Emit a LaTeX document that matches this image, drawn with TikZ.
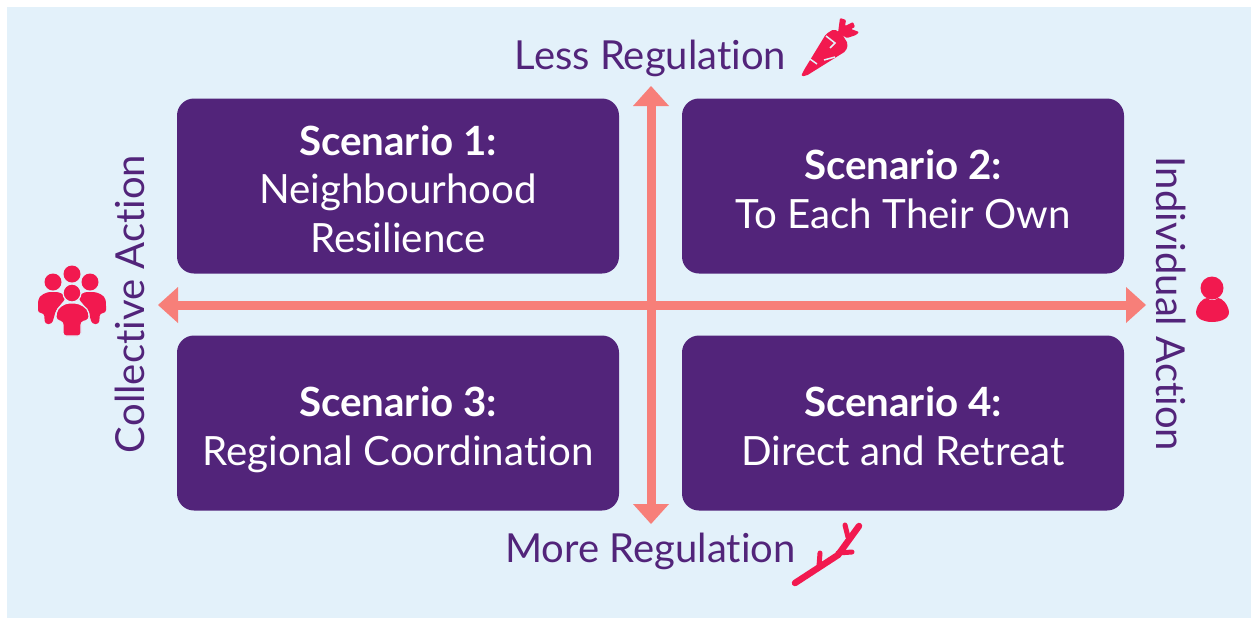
\documentclass[tikz,border=0pt]{standalone}
\usepackage{fontspec}
\setmainfont[Ligatures=NoCommon]{Lato}
\definecolor{bgblue}{HTML}{E3F1FA}
\definecolor{boxpurple}{HTML}{52247A}
\definecolor{salmon}{HTML}{F77F79}
\definecolor{iconred}{HTML}{F2194F}
\begin{document}
\begin{tikzpicture}[x=1pt,y=-1pt,
 box/.style={fill=boxpurple,rounded corners=17pt,minimum width=442pt,minimum height=175pt,inner sep=0pt},
 boxtext/.style={text=white,align=center,inner sep=0pt,font=\fontsize{40.3}{48.5}\selectfont},
 axlabel/.style={text=boxpurple,font=\fontsize{40}{42}\selectfont,inner sep=0pt},
 axis/.style={draw=salmon,line width=9pt},
 tip/.style={fill=salmon},
 icon/.style={fill=iconred},
 notch/.style={draw=bgblue,line width=1.5pt},
 twig/.style={draw=iconred,line cap=round,line join=round}]
\useasboundingbox (0,0) rectangle (1258,619);
\fill[white] (0,0) rectangle (1258,619);
\fill[bgblue] (7,7) rectangle (1251,618);
\node[box] (s1) at (398,186) {};
\node[box] (s2) at (903,186) {};
\node[box] (s3) at (398,423) {};
\node[box] (s4) at (903,423) {};
\node[boxtext] (t1) at (398,189) {\textbf{Scenario 1:}\\Neighbourhood\\Resilience};
\node[boxtext] (t2) at (903,189) {\textbf{Scenario 2:}\\To Each Their Own};
\node[boxtext] (t3) at (398,429.5) {\textbf{Scenario 3:}\\Regional Coordination};
\node[boxtext] (t4) at (903,426) {\textbf{Scenario 4:}\\Direct and Retreat};
\coordinate (top) at (651,86);
\coordinate (bot) at (651,524);
\coordinate (lft) at (158,305);
\coordinate (rgt) at (1146,305);
\draw[axis] (651,104) -- (651,506);
\draw[axis] (176,305) -- (1128,305);
\fill[tip] (top) -- (669,106) -- (633,106) -- cycle;
\fill[tip] (bot) -- (669,504) -- (633,504) -- cycle;
\fill[tip] (lft) -- (178,287) -- (178,323) -- cycle;
\fill[tip] (rgt) -- (1126,287) -- (1126,323) -- cycle;
\node[axlabel] (less) at (650.5,58) {Less Regulation};
\node[axlabel] (more) at (650.5,551) {More Regulation};
\node[axlabel,rotate=90] (coll) at (130,304) {Collective Action};
\node[axlabel,rotate=-90] (ind) at (1171,304) {Individual Action};
% carrot
\fill[icon,rounded corners=2pt] (801,76) -- (804,70) -- (826,34) -- (834,29) -- (842,34) -- (848,44) -- (846,51) -- (838,56) -- (806,76) -- cycle;
\draw[notch] (810,59) -- (817,64);
\draw[notch] (826,36) -- (835,43) -- (830,48);
\draw[notch] (824,60) -- (835,57);
\fill[icon,rounded corners=1pt] (838,33) -- (840,18) -- (846,20) -- (845,26) -- (853,22) -- (855,27) -- (851,29) -- (859,32) -- (856,35) -- (847,38) -- cycle;
% twig
\draw[twig,line width=6.5pt] (795,583) -- (838,555) -- (859,526);
\draw[twig,line width=5pt] (845,525) -- (848,537);
\draw[twig,line width=5pt] (820,553) -- (819,566);
\draw[twig,line width=5pt] (838,553) -- (852,552);
% people
\fill[icon] (53,282) circle (8.5) (72,274) circle (8.5) (90,282) circle (8.5);
\fill[icon,rounded corners=3pt] (38,313) -- (38,303) .. controls (39,295) and (47,292) .. (53,292) .. controls (60,292) and (64,295) .. (66,298) -- (56,310) -- (52,324) -- (45,324) -- (44,313) -- cycle;
\fill[icon,rounded corners=3pt] (106,313) -- (106,303) .. controls (105,295) and (97,292) .. (90,292) .. controls (84,292) and (80,295) .. (78,298) -- (88,310) -- (92,324) -- (99,324) -- (100,313) -- cycle;
\filldraw[icon,draw=bgblue,line width=1.2pt,rounded corners=3pt] (56,320) -- (56,316) .. controls (57,307) and (65,303) .. (72,303) .. controls (79,303) and (88,307) .. (89,316) -- (89,320) -- (81,322) -- (81,336) -- (63,336) -- (63,322) -- cycle;
\filldraw[icon,draw=bgblue,line width=1.2pt] (72,293) circle (9);
% person
\fill[icon] (1212,288) circle (11.5);
\fill[icon] (1196,312) .. controls (1197,304) and (1203,298) .. (1207,298) .. controls (1210,301) and (1215,301) .. (1218,298) .. controls (1222,298) and (1228,304) .. (1229,312) .. controls (1229,320) and (1218,322) .. (1212,322) .. controls (1206,322) and (1196,320) .. (1196,312) -- cycle;
\end{tikzpicture}
\end{document}
